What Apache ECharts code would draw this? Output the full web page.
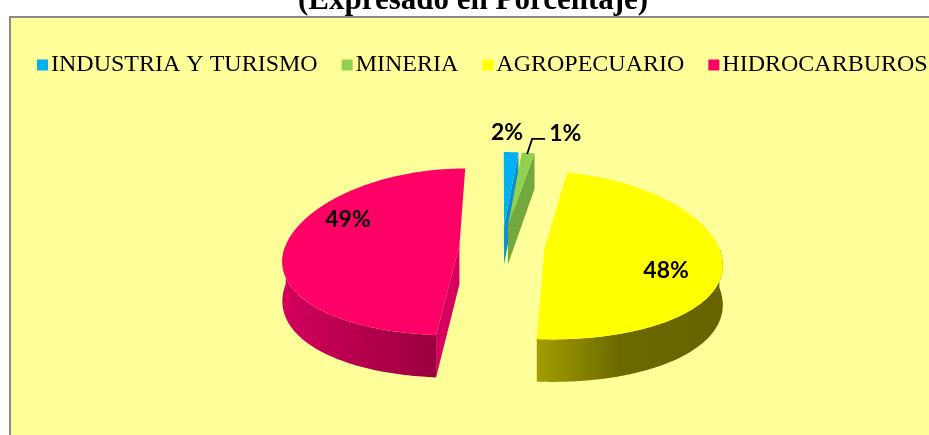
<!DOCTYPE html>
<html><head><meta charset="utf-8">
<script src="https://cdn.jsdelivr.net/npm/echarts@6/dist/echarts.min.js"></script>
<style>html,body{margin:0;padding:0;background:#fff}#c{width:929px;height:435px}</style>
</head><body><div id="c"></div>
<script>
// ---- data ----
const chartTitle = '(Expresado en Porcentaje)';
const categories = ['INDUSTRIA Y TURISMO', 'MINERIA', 'AGROPECUARIO', 'HIDROCARBUROS'];
const values = [1.6, 1.4, 48.2, 48.8];

// ---- styles ----
const topColors = ['#00B0F0', '#92D050', '#FFFF00', '#FF0066'];
const wallColors = ['#0A8FCB', '#72A83E', '#8C8800', '#D6005E'];
const outerWallStops = [
  [[0, '#0A8FCB'], [1, '#06709F']],
  [[0, '#72A83E'], [1, '#5C8A30']],
  [[0, '#A29E00'], [0.45, '#6C6900'], [1, '#666400']],
  [[0, '#D2005C'], [1, '#9A003E']]
];
// label placement per slice (layout only)
const labelLayout = [
  { mode: 'outside', dx: -4, dy: -20 },
  { mode: 'leader', dx: 3 },
  { mode: 'inside' },
  { mode: 'inside' }
];

// ---- geometry (layout) ----
const G = { cx: 502, cy: 246, rx: 174, ry: 83, h: 39, qx: 0.157, qy: 0.08, e: 0.245, rot: 0 };
const D2R = Math.PI / 180;
const total = values.reduce((s, v) => s + v, 0);
const starts = [];
(function () { let acc = 0; values.forEach(v => { starts.push(acc / total * 360 + G.rot); acc += v; }); })();

function proj(u, v, z) {
  const wx = 1 / (1 - G.qx * v), wy = 1 / (1 - G.qy * v);
  return [G.cx + G.rx * u * wx, G.cy + (G.ry * v + G.h * z) * wy];
}

function makeRender(i) {
  return function (params, api) {
    const val = api.value(0);
    const a = starts[i] * D2R;
    const b = (starts[i] + val / total * 360) * D2R;
    const m = (a + b) / 2;
    const ou = G.e * Math.sin(m), ov = -G.e * Math.cos(m);
    const pt = (t, z, r) => { r = r == null ? 1 : r; return proj(ou + r * Math.sin(t), ov - r * Math.cos(t), z); };
    const arc = (t0, t1, z) => {
      const n = Math.max(2, Math.ceil((t1 - t0) / D2R));
      const pts = [];
      for (let k = 0; k <= n; k++) pts.push(pt(t0 + (t1 - t0) * k / n, z));
      return pts;
    };
    const children = [];
    const C0 = proj(ou, ov, 0), C1 = proj(ou, ov, 1);
    if (Math.sin(a) < -1e-6) {
      children.push({ type: 'polygon', shape: { points: [C0, pt(a, 0), pt(a, 1), C1] }, style: { fill: wallColors[i] } });
    }
    if (Math.sin(b) > 1e-6) {
      children.push({ type: 'polygon', shape: { points: [C0, pt(b, 0), pt(b, 1), C1] }, style: { fill: wallColors[i] } });
    }
    const s = Math.max(a, Math.PI / 2), t = Math.min(b, 1.5 * Math.PI);
    if (t > s) {
      const topA = arc(s, t, 0), botA = arc(s, t, 1).reverse();
      children.push({
        type: 'polygon', shape: { points: topA.concat(botA) },
        style: { fill: { type: 'linear', x: 0, y: 0, x2: 1, y2: 0, colorStops: outerWallStops[i].map(c => ({ offset: c[0], color: c[1] })) } }
      });
    }
    children.push({ type: 'polygon', shape: { points: [C0].concat(arc(a, b, 0)) }, style: { fill: topColors[i] } });

    // label
    const txt = Math.round(val / total * 100) + '%';
    const font = 'bold 23px Lato, "Open Sans", sans-serif';
    const L = labelLayout[i];
    if (L.mode === 'inside') {
      const p = pt(m + 18 * D2R, 0, 0.72);
      children.push({ type: 'text', x: p[0], y: p[1] - 5, style: { text: txt, font, fill: '#000', align: 'center', verticalAlign: 'middle' } });
    } else if (L.mode === 'outside') {
      const p = pt(m, 0, 1);
      children.push({ type: 'text', x: p[0] + L.dx, y: p[1] + L.dy, style: { text: txt, font, fill: '#000', align: 'center', verticalAlign: 'middle' } });
    } else {
      const p = pt(m, 0, 1);
      const x0 = p[0] + L.dx;
      const p0 = [x0 - 4, p[1] + 1], p1 = [x0 + 1, p[1] - 14], p2 = [x0 + 14, p[1] - 14];
      children.push({ type: 'polyline', shape: { points: [p0, p1, p2] }, style: { stroke: '#000', lineWidth: 1.8, fill: null } });
      children.push({ type: 'text', x: p2[0] + 4, y: p2[1] - 5, style: { text: txt, font, fill: '#000', align: 'left', verticalAlign: 'middle' } });
    }
    return { type: 'group', children };
  };
}

const chart = echarts.init(document.getElementById('c'), null, { renderer: 'canvas' });
chart.setOption({
  animation: false,
  backgroundColor: '#ffffff',
  title: {
    text: chartTitle, left: 298, top: -15, padding: 0,
    textStyle: { fontFamily: '"Liberation Serif", serif', fontWeight: 'bold', fontSize: 31, color: '#000' }
  },
  graphic: [{
    type: 'rect', z: -10, silent: true,
    shape: { x: 10, y: 17, width: 940, height: 440 },
    style: { fill: '#FFFF99', stroke: '#898989', lineWidth: 2 }
  }],
  legend: {
    left: 32, top: 48, width: 1400, icon: 'rect', itemWidth: 11, itemHeight: 11, itemGap: 24,
    selectedMode: false, data: categories,
    textStyle: { fontFamily: '"Liberation Serif", serif', fontSize: 24, color: '#000', padding: [0, 0, 0, -2] }
  },
  series: categories.map((name, i) => ({
    type: 'custom', name, coordinateSystem: 'none', silent: true,
    itemStyle: { color: topColors[i] },
    renderItem: makeRender(i),
    data: [values[i]]
  }))
});
</script>
</body></html>
